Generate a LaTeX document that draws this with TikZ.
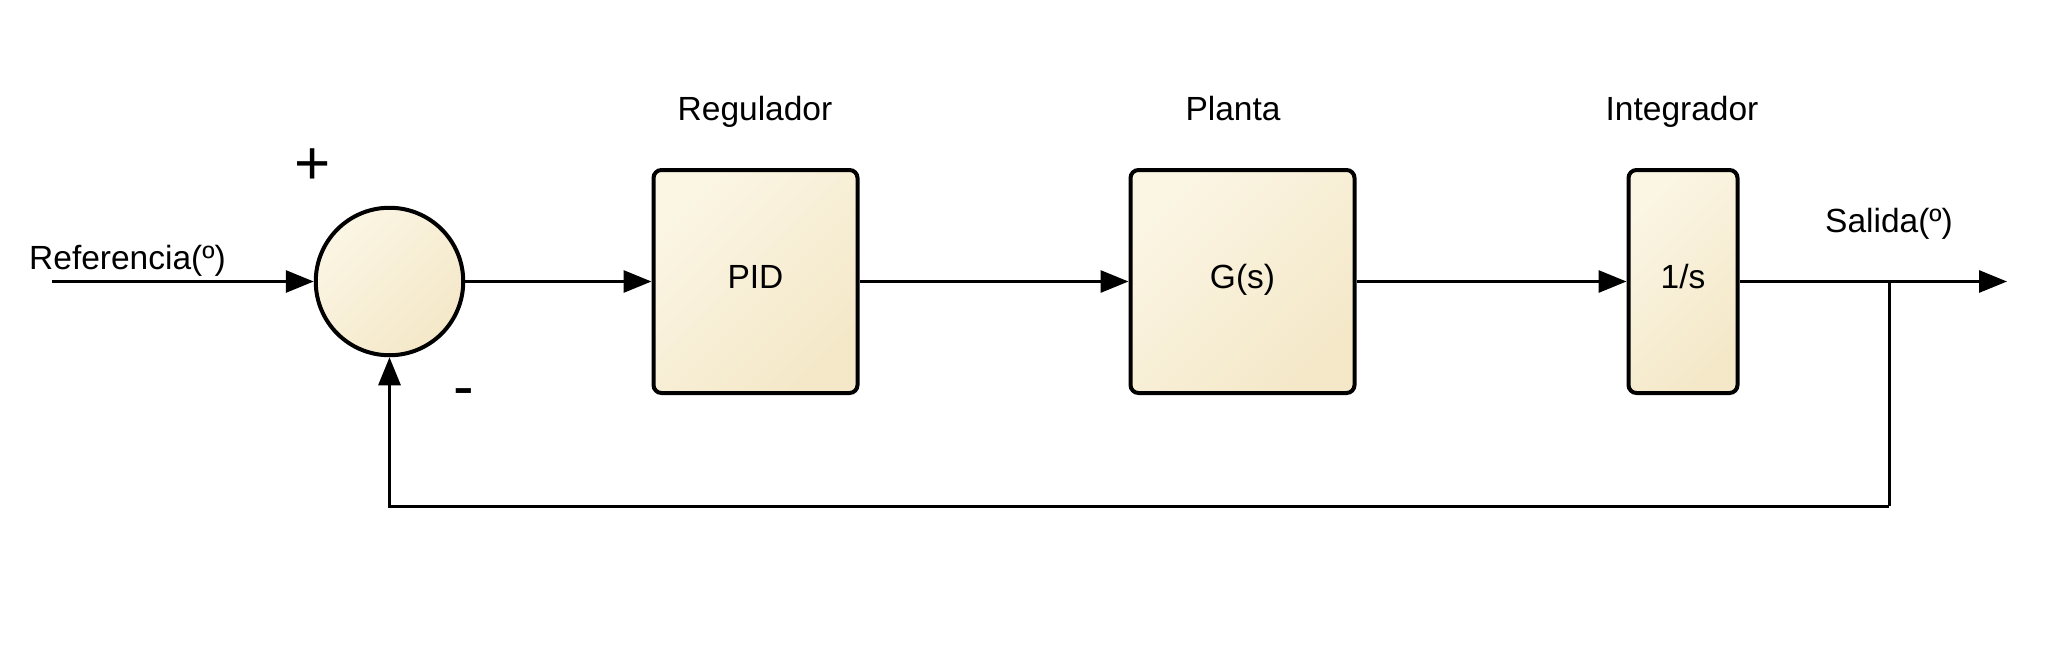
\documentclass[tikz,border=0pt]{standalone}
\usepackage{fontspec}
\setmainfont{Liberation Sans}
\usepackage{tikz}
\usetikzlibrary{arrows,arrows.meta,calc,positioning}
\definecolor{boxlight}{HTML}{FBF5E4}
\definecolor{boxdark}{HTML}{F4E8C8}
\tikzset{
	block/.style={draw, line width=4pt, rounded corners=8pt, inner sep=0pt,
		top color=boxlight, bottom color=boxdark, shading angle=45, minimum height=223pt,
		text height=24pt, text depth=10pt},
	sumnode/.style={circle, draw, line width=4pt, inner sep=0pt, minimum size=147.5pt,
		top color=boxlight, bottom color=boxdark, shading angle=45},
	wire/.style={line width=3pt},
	sign/.style={font=\fontsize{62}{70}\selectfont, inner sep=0pt, anchor=base}
}

\begin{document}
\begin{tikzpicture}[x=1pt, y=-1pt, >={Triangle[length=28pt,width=22pt]},
	every node/.append style={font=\fontsize{33.5}{40}\selectfont}]
		\useasboundingbox (0,0) rectangle (2049,653);
		\node[sumnode] (sum) at (389.5,281.5) {};
		\node[block, minimum width=204pt] (pid) at (755.5,281.5) {PID};
		\node[block, minimum width=224pt] (planta) at (1242.5,281.5) {G(s)};
		\node[block, minimum width=109pt] (integ) at (1683,281.5) {1/s};
		\node[anchor=base, inner sep=0pt] (reglbl) at (755,120) {Regulador};
		\node[anchor=base, inner sep=0pt] (plantalbl) at (1233,120) {Planta};
		\node[anchor=base, inner sep=0pt] (integlbl) at (1682,120) {Integrador};
		\node[anchor=base west, inner sep=0pt] (reflbl) at (29,269) {Referencia(º)};
		\node[anchor=base, inner sep=0pt] (outlbl) at (1889,232) {Salida(º)};
		\node[sign] (plus) at (313,184) {+};
		\node[sign] (minus) at (464,407) {-};
		\coordinate (in) at (52,281.5);
		\coordinate (out) at (2007,281.5);
		\coordinate (tap) at (1889,281.5);
		\coordinate (fb) at (1889,506);
		\draw[wire,->] (in) to (sum.west);
		\draw[wire,->] (sum.east) to (pid.west);
		\draw[wire,->] (pid.east) to (planta.west);
		\draw[wire,->] (planta.east) to (integ.west);
		\draw[wire,->] (integ.east) to (out);
		\draw[wire] (tap) to (fb);
		\draw[wire,->] (fb) -| (sum.south);
	\end{tikzpicture}
\end{document}
